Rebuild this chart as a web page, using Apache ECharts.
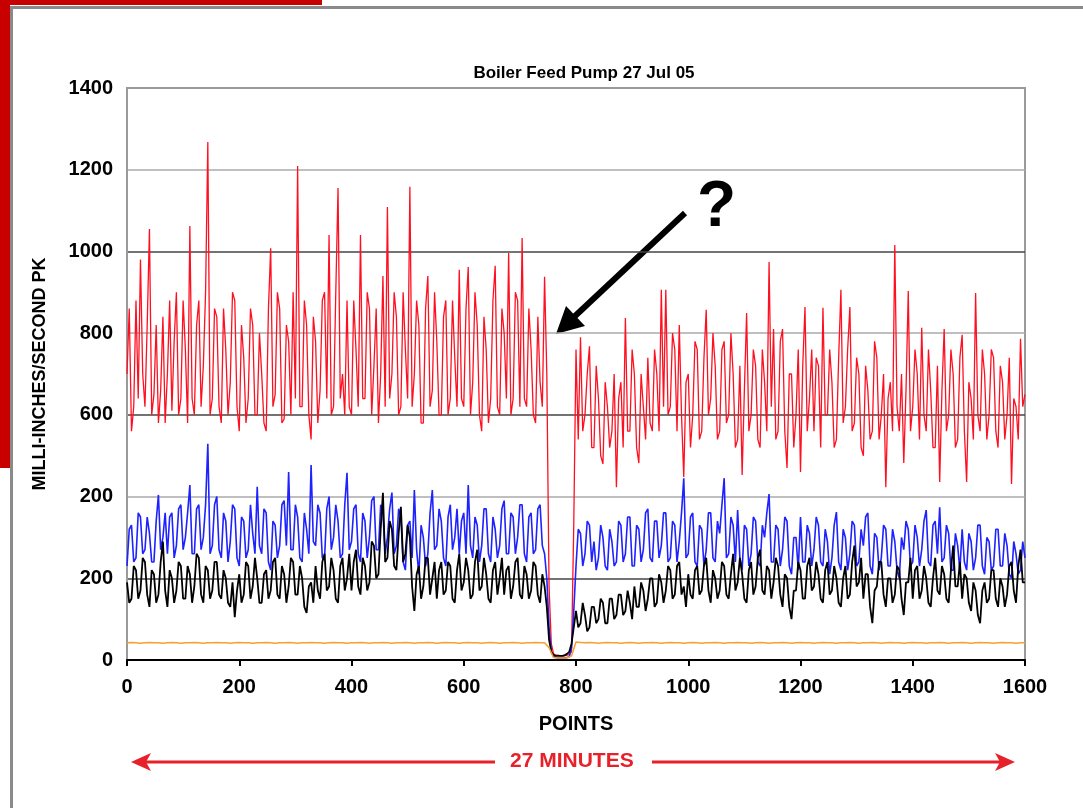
<!DOCTYPE html>
<html>
<head>
<meta charset="utf-8">
<title>Boiler Feed Pump 27 Jul 05</title>
<script src="https://cdn.jsdelivr.net/npm/echarts@6/dist/echarts.min.js"></script>
<style>
  html, body { margin: 0; padding: 0; background: #fff; }
  #chart { width: 1083px; height: 808px; }
</style>
</head>
<body>
<div id="chart"></div>
<script>
// red / blue / black: one reading every 4 points, orange every 8 points
var sampleStep = 4;
var orangeStep = 8;

// labels as printed on the original (the 400 line is labelled 200)
var yTickLabels = ['0', '200', '200', '600', '800', '1000', '1200', '1400'];
var xTickLabels = ['0', '200', '400', '600', '800', '1000', '1200', '1400', '1600'];

var redValues = [
  700, 860, 560, 620, 880, 640, 980, 700, 620, 820, 1055, 600, 650, 820, 580, 660, 840, 580, 700, 880,
  610, 780, 900, 600, 640, 880, 760, 580, 1062, 640, 600, 820, 880, 620, 720, 900, 1268, 600, 640, 860,
  840, 620, 580, 860, 760, 600, 680, 900, 880, 620, 560, 820, 740, 580, 640, 860, 820, 600, 600, 800,
  700, 580, 560, 860, 1008, 620, 650, 900, 860, 580, 590, 820, 780, 600, 900, 640, 1209, 620, 620, 880,
  820, 600, 540, 840, 780, 580, 660, 880, 900, 640, 1040, 600, 620, 900, 1155, 640, 700, 600, 880, 620,
  600, 880, 760, 620, 1040, 640, 640, 900, 860, 600, 720, 860, 580, 700, 940, 620, 1109, 640, 700, 900,
  840, 600, 620, 900, 760, 640, 1158, 620, 700, 880, 820, 580, 580, 860, 940, 620, 660, 900, 780, 600,
  600, 840, 880, 600, 640, 880, 740, 620, 955, 640, 620, 860, 962, 600, 680, 900, 820, 600, 560, 840,
  760, 580, 640, 880, 965, 620, 600, 860, 800, 640, 996, 600, 640, 900, 880, 620, 1033, 640, 620, 860,
  760, 600, 580, 840, 680, 620, 938, 700, 180, 40, 15, 12, 12, 10, 10, 10, 12, 14, 20, 330,
  760, 540, 790, 560, 600, 700, 768, 520, 520, 720, 640, 500, 480, 680, 620, 520, 560, 700, 423, 640,
  680, 520, 837, 560, 560, 760, 700, 520, 482, 700, 620, 540, 740, 580, 560, 760, 700, 560, 906, 620,
  906, 600, 620, 800, 760, 560, 820, 600, 448, 680, 700, 520, 600, 780, 760, 540, 560, 740, 857, 600,
  640, 800, 720, 540, 560, 760, 780, 580, 600, 800, 700, 520, 540, 720, 453, 660, 849, 560, 600, 760,
  720, 540, 520, 760, 680, 560, 974, 620, 810, 540, 560, 780, 810, 560, 470, 700, 700, 520, 600, 760,
  460, 720, 864, 560, 640, 760, 560, 740, 720, 520, 862, 600, 600, 760, 680, 520, 540, 740, 906, 580,
  620, 760, 864, 560, 580, 740, 700, 520, 500, 720, 660, 540, 560, 780, 740, 540, 600, 700, 423, 640,
  680, 560, 1016, 620, 560, 700, 482, 660, 903, 560, 620, 760, 700, 540, 813, 600, 560, 760, 660, 520,
  520, 720, 436, 660, 810, 560, 600, 760, 700, 520, 540, 740, 796, 560, 436, 680, 640, 540, 898, 600,
  560, 760, 700, 540, 600, 760, 740, 560, 520, 720, 680, 540, 600, 740, 431, 640, 620, 540, 786, 620,
  650
];

var blueValues = [
  230, 320, 330, 240, 250, 360, 350, 260, 270, 350, 310, 240, 240, 340, 404, 270, 300, 360, 260, 350,
  360, 250, 280, 370, 380, 270, 300, 360, 428, 260, 260, 370, 380, 270, 300, 380, 529, 260, 280, 380,
  400, 270, 250, 360, 340, 240, 290, 380, 370, 250, 230, 350, 340, 250, 270, 380, 310, 260, 424, 280,
  260, 370, 360, 240, 220, 340, 330, 250, 280, 380, 390, 280, 460, 270, 270, 380, 350, 250, 240, 360,
  320, 260, 477, 290, 280, 380, 360, 250, 250, 370, 400, 270, 300, 380, 340, 250, 260, 380, 458, 270,
  290, 370, 380, 260, 240, 360, 340, 250, 300, 390, 400, 270, 270, 380, 360, 260, 300, 370, 410, 260,
  280, 370, 350, 240, 220, 330, 340, 250, 416, 270, 210, 330, 300, 230, 260, 360, 416, 270, 280, 370,
  340, 250, 230, 350, 380, 270, 300, 370, 260, 340, 360, 260, 428, 280, 250, 350, 330, 240, 280, 370,
  370, 260, 240, 350, 320, 250, 280, 370, 390, 260, 260, 360, 350, 260, 300, 380, 380, 260, 240, 350,
  360, 260, 270, 370, 380, 280, 260, 200, 80, 20, 8, 6, 5, 5, 5, 5, 6, 8, 30, 120,
  230, 320, 310, 230, 260, 340, 330, 240, 290, 220, 250, 330, 300, 230, 220, 320, 290, 230, 240, 340,
  330, 240, 260, 350, 350, 230, 230, 330, 320, 240, 270, 360, 370, 250, 240, 340, 340, 250, 280, 360,
  360, 240, 250, 340, 330, 240, 290, 360, 445, 250, 260, 350, 360, 240, 230, 330, 320, 230, 270, 360,
  360, 250, 240, 340, 310, 380, 445, 250, 260, 350, 330, 240, 367, 250, 220, 330, 320, 230, 260, 350,
  340, 240, 230, 330, 300, 360, 406, 240, 240, 330, 320, 230, 270, 350, 340, 230, 210, 300, 300, 220,
  350, 240, 240, 330, 310, 230, 270, 350, 330, 240, 230, 320, 290, 210, 250, 330, 362, 240, 220, 320,
  300, 220, 260, 340, 330, 230, 240, 320, 280, 350, 360, 230, 210, 310, 300, 220, 250, 330, 320, 230,
  230, 320, 290, 220, 200, 300, 270, 340, 320, 230, 240, 330, 300, 230, 270, 340, 367, 240, 230, 330,
  340, 260, 374, 240, 250, 330, 310, 220, 220, 310, 280, 220, 320, 240, 220, 310, 290, 220, 250, 330,
  330, 230, 210, 300, 290, 220, 230, 320, 320, 230, 230, 310, 280, 210, 200, 290, 260, 210, 220, 290,
  250
];

var blackValues = [
  190, 140, 150, 230, 220, 150, 170, 250, 240, 160, 130, 220, 210, 140, 160, 240, 290, 170, 130, 220,
  200, 140, 170, 240, 230, 150, 150, 230, 210, 140, 180, 260, 250, 160, 140, 230, 220, 150, 170, 240,
  240, 160, 150, 220, 200, 140, 130, 190, 105, 170, 210, 140, 160, 240, 230, 150, 180, 250, 200, 140,
  140, 210, 220, 150, 170, 240, 250, 160, 150, 230, 210, 140, 180, 250, 240, 160, 160, 230, 200, 130,
  115, 180, 190, 140, 230, 170, 150, 240, 260, 170, 180, 250, 220, 150, 140, 230, 250, 170, 200, 260,
  170, 240, 270, 180, 160, 250, 230, 170, 190, 290, 280, 200, 210, 320, 409, 240, 250, 340, 320, 230,
  220, 310, 375, 240, 260, 330, 300, 180, 120, 210, 230, 150, 180, 250, 250, 160, 200, 240, 150, 220,
  240, 160, 170, 240, 230, 150, 140, 220, 260, 170, 190, 250, 220, 150, 160, 240, 270, 170, 180, 250,
  210, 150, 140, 220, 240, 160, 200, 250, 160, 220, 230, 150, 180, 240, 250, 160, 150, 230, 210, 150,
  170, 240, 230, 160, 140, 210, 180, 130, 50, 20, 12, 10, 10, 10, 10, 12, 15, 20, 40, 80,
  120, 80, 90, 140, 110, 70, 80, 130, 130, 90, 100, 150, 140, 90, 90, 150, 150, 100, 110, 160,
  160, 110, 120, 170, 140, 100, 180, 130, 130, 190, 170, 120, 150, 200, 200, 130, 140, 210, 190, 140,
  170, 230, 220, 150, 160, 230, 240, 160, 180, 130, 210, 160, 150, 220, 230, 160, 170, 230, 250, 170,
  140, 220, 200, 150, 170, 240, 230, 160, 150, 210, 260, 170, 190, 250, 210, 150, 140, 220, 240, 160,
  180, 250, 270, 170, 160, 230, 220, 150, 190, 250, 230, 160, 130, 210, 200, 130, 100, 170, 170, 240,
  220, 150, 150, 230, 250, 170, 180, 240, 210, 150, 140, 220, 240, 160, 170, 230, 200, 140, 130, 200,
  230, 150, 160, 240, 280, 180, 190, 250, 150, 210, 210, 130, 90, 170, 180, 240, 240, 160, 130, 200,
  200, 140, 160, 230, 220, 150, 110, 190, 190, 250, 150, 220, 230, 150, 170, 230, 200, 140, 130, 200,
  250, 170, 160, 230, 210, 150, 140, 220, 280, 180, 180, 240, 150, 210, 200, 140, 120, 190, 170, 110,
  90, 170, 190, 140, 150, 220, 220, 150, 130, 200, 180, 130, 160, 230, 240, 170, 140, 230, 270, 190,
  190
];

var orangeValues = [
  42, 43, 42, 41, 42, 43, 42, 42, 41, 42, 43, 42, 41, 42, 42, 43, 42, 41, 42, 42,
  43, 42, 42, 41, 42, 43, 42, 42, 41, 42, 42, 43, 42, 41, 42, 42, 43, 42, 41, 42,
  42, 43, 42, 42, 41, 42, 43, 42, 42, 41, 42, 42, 43, 42, 41, 42, 42, 43, 42, 41,
  42, 42, 43, 42, 41, 42, 42, 43, 42, 41, 42, 43, 42, 42, 41, 42, 43, 42, 42, 41,
  42, 43, 42, 41, 42, 42, 43, 42, 41, 42, 42, 43, 42, 42, 30, 6, 5, 5, 5, 10,
  44, 43, 42, 43, 42, 41, 42, 43, 42, 42, 41, 42, 43, 42, 41, 42, 42, 43, 42, 41,
  42, 43, 42, 42, 41, 42, 43, 42, 41, 42, 42, 43, 42, 41, 42, 42, 43, 42, 42, 41,
  42, 43, 42, 41, 42, 42, 43, 42, 41, 42, 43, 42, 42, 41, 42, 43, 42, 42, 41, 42,
  42, 43, 42, 41, 42, 42, 43, 42, 41, 42, 43, 42, 42, 41, 42, 43, 42, 42, 41, 42,
  42, 43, 42, 41, 42, 42, 43, 42, 41, 42, 43, 42, 42, 41, 42, 43, 42, 42, 41, 42,
  42
];

function toPairs(values, step) {
  return values.map(function (v, i) { return [i * step, v]; });
}

var chartDom = document.getElementById('chart');
var myChart = echarts.init(chartDom, null, { renderer: 'canvas' });

var labelFont = '"Liberation Sans", Arial, sans-serif';

function lineSeries(name, values, step, color, width) {
  return {
    name: name,
    type: 'line',
    data: toPairs(values, step),
    symbol: 'none',
    animation: false,
    lineStyle: { color: color, width: width },
    itemStyle: { color: color }
  };
}

var option = {
  backgroundColor: '#fff',
  animation: false,
  title: {
    text: 'Boiler Feed Pump 27 Jul 05',
    left: 579,
    top: 60,
    textAlign: 'center',
    textStyle: { fontFamily: labelFont, fontSize: 17, fontWeight: 'bold', color: '#000' }
  },
  grid: {
    left: 127,
    top: 88,
    right: 58,
    bottom: 148,
    show: true,
    borderColor: '#9a9a9a',
    borderWidth: 2,
    backgroundColor: '#fff'
  },
  xAxis: {
    type: 'value',
    min: 0,
    max: 1600,
    interval: 200,
    name: 'POINTS',
    nameLocation: 'middle',
    nameGap: 54,
    nameTextStyle: { fontFamily: labelFont, fontSize: 20, fontWeight: 'bold', color: '#000' },
    axisLine: { show: true, lineStyle: { color: '#000', width: 2 } },
    axisTick: { show: true, length: 6, lineStyle: { color: '#000', width: 2 } },
    splitLine: { show: false },
    axisLabel: {
      margin: 17,
      fontFamily: labelFont,
      fontSize: 20,
      fontWeight: 'bold',
      color: '#000',
      formatter: function (v) { return xTickLabels[Math.round(v / 200)]; }
    }
  },
  yAxis: {
    type: 'value',
    min: 0,
    max: 1400,
    interval: 200,
    name: 'MILLI-INCHES/SECOND PK',
    nameLocation: 'middle',
    nameGap: 78,
    nameRotate: 90,
    nameTextStyle: { fontFamily: labelFont, fontSize: 18, fontWeight: 'bold', color: '#000' },
    axisLine: { show: true, lineStyle: { color: '#9a9a9a', width: 2 } },
    axisTick: { show: false },
    splitLine: {
      show: true,
      showMaxLine: false,
      lineStyle: { color: ['#aaaaaa', '#444444'], width: 1.5 }
    },
    axisLabel: {
      margin: 14,
      fontFamily: labelFont,
      fontSize: 20,
      fontWeight: 'bold',
      color: '#000',
      formatter: function (v) { return yTickLabels[Math.round(v / 200)]; }
    }
  },
  series: [
    lineSeries('Red', redValues, sampleStep, '#ff1020', 1.3),
    lineSeries('Blue', blueValues, sampleStep, '#1e22ff', 1.6),
    lineSeries('Black', blackValues, sampleStep, '#000000', 1.8),
    lineSeries('Orange', orangeValues, orangeStep, '#f5a030', 1.5)
  ],
  graphic: [
    // page frame
    { type: 'rect', shape: { x: 0, y: 0, width: 322, height: 5 }, style: { fill: '#c80000' }, silent: true },
    { type: 'rect', shape: { x: 0, y: 0, width: 10, height: 468 }, style: { fill: '#c80000' }, silent: true },
    { type: 'rect', shape: { x: 10, y: 6, width: 1073, height: 3 }, style: { fill: '#8a8a8a' }, silent: true },
    { type: 'rect', shape: { x: 10, y: 6, width: 3, height: 802 }, style: { fill: '#8a8a8a' }, silent: true },
    // question mark and arrow
    {
      type: 'text', left: 697, top: 176, silent: true,
      style: { text: '?', font: 'bold 64px "Liberation Sans", Arial, sans-serif', fill: '#000' }
    },
    {
      type: 'line', silent: true,
      shape: { x1: 685, y1: 213, x2: 574, y2: 317 },
      style: { stroke: '#000', lineWidth: 6 }
    },
    {
      type: 'polygon', silent: true,
      shape: { points: [[556, 334], [566, 306], [585, 326]] },
      style: { fill: '#000' }
    },
    // 27 MINUTES span
    {
      type: 'line', silent: true,
      shape: { x1: 140, y1: 762, x2: 495, y2: 762 },
      style: { stroke: '#e8202a', lineWidth: 3 }
    },
    {
      type: 'line', silent: true,
      shape: { x1: 652, y1: 762, x2: 1006, y2: 762 },
      style: { stroke: '#e8202a', lineWidth: 3 }
    },
    {
      type: 'polygon', silent: true,
      shape: { points: [[131, 762], [151, 753], [146, 762], [151, 771]] },
      style: { fill: '#e8202a' }
    },
    {
      type: 'polygon', silent: true,
      shape: { points: [[1015, 762], [995, 753], [1000, 762], [995, 771]] },
      style: { fill: '#e8202a' }
    },
    {
      type: 'text', left: 510, top: 751, silent: true,
      style: { text: '27 MINUTES', font: 'bold 21px "Liberation Sans", Arial, sans-serif', fill: '#e8202a' }
    }
  ]
};

myChart.setOption(option);
</script>
</body>
</html>
